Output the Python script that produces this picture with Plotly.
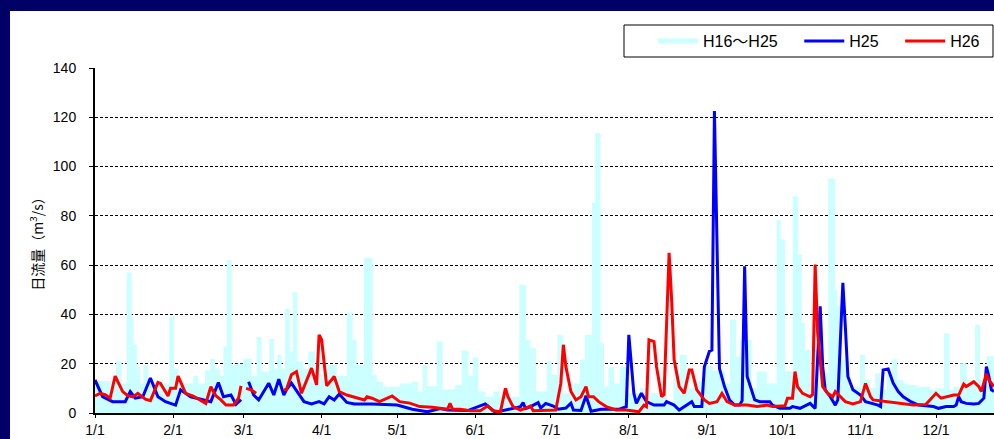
import plotly.graph_objects as go

# ---- data: day of year (0 = 1/1) and daily flow (m3/s) ----
month_days = [0, 31, 59, 90, 120, 151, 181, 212, 243, 273, 304, 334]
month_labels = ["1/1", "2/1", "3/1", "4/1", "5/1", "6/1", "7/1", "8/1", "9/1", "10/1", "11/1", "12/1"]

# H16~H25 envelope (daily maximum over the ten years), as step starts
hist_day = [0.0, 8.3, 10.6, 12.6, 14.6, 15.2, 16.6, 17.9, 19.2, 21.2, 29.5, 31.4, 33.1, 39.0, 41.0,
            43.7, 45.7, 47.7, 49.6, 51.0, 52.3, 54.3, 56.3, 58.9, 62.2, 64.2, 66.2, 69.2, 71.1, 72.4,
            74.1, 75.5, 77.4, 78.5, 80.3, 82.7, 84.7, 87.4, 89.4, 92.0, 96.0, 100.0, 102.3, 103.9,
            106.8, 110.3, 111.9, 114.5, 121.1, 125.8, 128.4, 130.1, 132.0, 135.7, 138.1, 143.0,
            145.6, 148.3, 150.0, 152.2, 154.9, 158.2, 160.8, 168.5, 171.2, 172.8, 175.1, 179.4,
            181.4, 183.6, 186.0, 190.0, 192.6, 194.6, 197.3, 198.6, 200.8, 202.1, 203.9, 206.1,
            208.5, 211.2, 216.4, 219.1, 227.0, 229.7, 232.3, 235.0, 237.6, 241.5, 245.4, 250.2,
            252.2, 254.6, 256.2, 260.8, 262.8, 266.8, 270.7, 272.3, 274.0, 277.1, 279.3, 280.7,
            282.0, 284.6, 285.9, 288.6, 291.2, 293.9, 294.8, 296.5, 299.2, 303.8, 305.8, 307.8,
            309.8, 311.8, 314.4, 316.4, 318.6, 321.0, 323.0, 326.3, 331.6, 333.6, 337.2, 339.3,
            340.9, 343.5, 346.2, 349.5, 351.5, 354.1, 357.0]
hist_max = [13, 21, 12, 57, 39, 27.7, 18.8, 12, 19.5, 12, 39, 18, 12, 15, 12,
            17.5, 22, 18, 15, 27, 62, 19.5, 20, 22, 15, 30.8, 16.8, 30, 18, 23.6,
            18, 42.3, 25, 49, 21, 18, 25, 20, 16, 19.5, 15, 40.8, 29.7, 19.5,
            63, 15.5, 12.7, 10.7, 12, 12.7, 8.7, 19.5, 11, 29, 9.5, 11.4,
            25.4, 15, 22.5, 8.7, 6.6, 8.7, 6.6, 52, 29.7, 26.3, 8.7, 21,
            15.5, 31.7, 8, 12, 21.6, 31.7, 85.3, 113.6, 28.4, 10.7, 18.6, 12,
            18.6, 8, 10, 8, 4.6, 16.1, 23.6, 10, 13, 19, 17, 12,
            37.9, 22.9, 29.7, 10, 16.8, 12, 78.3, 70.4, 16.8, 88, 64.3, 36.5,
            25.6, 17.5, 25.6, 16.1, 95.2, 50, 43.3, 21.6, 10.7, 23.6, 13.4, 10,
            16.1, 9.4, 15.5, 21.8, 13.4, 12, 11.4, 10.7, 9.4, 10, 32.4, 9.4,
            10.7, 20.2, 13.4, 35.8, 13.4, 23, 23]

# H25 daily flow
h25_day = [0, 3, 7, 12, 14, 16, 19, 22, 25, 28, 32, 34, 38, 42, 46, 49, 51, 54, 56, 58, 59,
           61, 63, 65, 69, 71, 73, 75, 76, 78, 81, 83, 86, 89, 91, 93, 95, 97, 100, 103, 110,
           113, 120, 126, 132, 137, 140, 148, 155, 159, 163, 169, 170, 171, 173, 176, 177, 179,
           182, 184, 187, 189, 190, 193, 195, 197, 201, 208, 211, 212, 214, 215, 217, 219, 222,
           226, 227, 230, 232, 235, 237, 238, 241, 242, 244, 245, 246, 247, 248, 250, 252, 254,
           256, 257, 258, 259, 261, 262, 264, 268, 269, 272, 276, 277, 280, 284, 286, 288, 289,
           290, 292, 294, 295, 297, 298, 299, 301, 304, 306, 309, 311, 312, 313, 315, 317, 319,
           321, 324, 327, 333, 335, 338, 341, 342, 343, 344, 346, 349, 351, 353, 354, 355, 356, 357]
h25_val = [13.4, 6.6, 4.6, 4.6, 8.7, 6.0, 6.6, 14.2, 6.6, 4.6, 3.2, 9.4, 6.6, 5.5, 4.6, 12.4, 6.6,
           7.3, 3.5, 5.4, None,
           12.7, 7.3, 5.3, 12.1, 7.3, 13.7, 7.3, 9.4, 12.1, 7.3, 4.6, 3.7, 4.6, 3.7, 6.6, 5.3, 7.7,
           4.3, 3.7, 3.7, 3.5, 3.2, 1.5, 0.5, 1.8, 1.2, 1.0, 3.7, 0.3, 1.2, 2.6, 4.2, 1.8, 2.6,
           4.2, 2.0, 3.9, 2.8, 1.5, 2.0, 4.0, 1.2, 1.0, 7.0, 0.7, 1.5, 1.5, 2.6, 31.7, 8.0, 3.9,
           8.0, 4.6, 3.2, 3.2, 4.6, 3.2, 1.2, 3.2, 4.6, 2.6, 2.6, 18.8, 25.0, 25.5, 122.5, 70.0,
           18.0, 10.7, 5.3, 3.2, 3.2, 5.0, 59.5, 14.8, 8.0, 5.3, 4.6, 4.6, 3.2, 1.9, 1.9, 2.6,
           1.9, 3.9, 1.9, 43.3, 18.8, 9.4, 6.6, 3.2, 5.3, 52.8, 35.0, 14.8, 9.4, 7.3, 4.6, 3.9,
           3.2, 2.6, 17.5, 17.9, 12.1, 8.7, 6.6, 4.6, 3.2, 2.6, 1.9, 2.6, 2.6, 3.2, 6.6, 4.6, 3.9,
           3.7, 3.9, 6.0, 18.8, 14.8, 9.4, 8.7]

# H26 daily flow
h26_day = [0, 2, 4, 6, 8, 11, 13, 15, 17, 20, 22, 25, 26, 29, 30, 32, 33, 36, 39, 42, 44, 46,
           48, 50, 52, 55, 57, 58, 59, 60, 62, 64, 65, 75, 76, 78, 80, 82, 83, 86, 88, 89, 90,
           92, 95, 97, 100, 107, 108, 110, 113, 118, 121, 125, 129, 134, 140, 141, 142, 145,
           149, 153, 156, 158, 161, 163, 164, 166, 169, 173, 174, 179, 183, 185, 186, 187, 189,
           191, 193, 195, 196, 198, 200, 203, 207, 211, 213, 216, 218, 219, 220, 222, 223, 225,
           226, 228, 229, 230, 232, 234, 236, 237, 239, 242, 244, 247, 249, 251, 254, 259, 263,
           267, 269, 274, 275, 277, 278, 279, 281, 284, 285, 286, 287, 289, 291, 293, 294, 296,
           298, 301, 304, 306, 308, 309, 314, 320, 325, 330, 334, 336, 338, 341, 343, 345, 346,
           349, 351, 352, 354, 355, 357]
h26_val = [6.9, 8.0, 7.5, 6.0, 15.0, 8.7, 7.0, 6.5, 8.0, 5.6, 5.0, 12.4, 12.0, 6.9, 10.0, 10.0,
           15.0, 8.0, 6.9, 5.3, 3.9, 10.7, 7.0, 5.3, 3.2, 3.2, 6.0, 11.0, None, 10.0, 9.4, 8.0,
           None, 9.4, 9.4, 15.5, 16.8, 8.0, 10.5, 18.2, 11.4, 31.7, 29.7, 11.0, 14.8, 8.7, 7.3,
           5.3, 6.6, 6.0, 4.6, 6.9, 4.6, 4.0, 2.6, 2.3, 1.5, 3.9, 1.5, 1.5, 0.9, 0.9, 2.9, 0.9,
           0.5, 10.0, 6.6, 2.6, 1.2, 2.9, 0.9, 0.9, 1.2, 12.0, 27.7, 18.8, 8.7, 5.3, 6.6, 10.7,
           6.6, 6.6, 4.6, 2.6, 1.2, 1.2, 1.0, 0.5, 3.2, 2.6, 29.7, 29.0, 18.8, 6.6, 7.5, 65.0,
           46.0, 21.6, 10.7, 8.0, 17.5, 17.5, 9.4, 5.3, 3.9, 4.6, 8.0, 4.6, 3.2, 3.2, 2.6, 3.2,
           2.6, 2.9, 6.0, 6.0, 16.8, 10.7, 8.0, 6.6, 7.5, 60.2, 32.4, 10.7, 8.0, 6.6, 8.7, 6.6,
           4.6, 3.7, 4.6, 12.0, 6.6, 5.3, 4.6, 3.7, 3.2, 3.5, 8.0, 6.0, 6.6, 7.3, 7.3, 11.7, 10.7,
           12.7, 10.7, 8.7, 15.9, 13.4, 10.7]

CYAN = "#ccffff"
BLUE = "#0000ff"
RED = "#ff0000"
NAVY = "#000066"
TEXT_FONT = "Liberation Sans, Arial, Noto Sans CJK JP, sans-serif"
PAD = "\u00a0\u00a0\u00a0\u2009"  # extra room after each legend label

fig = go.Figure()

# ten-year envelope as a stepped cyan area
fig.add_trace(go.Scatter(
    x=hist_day, y=hist_max, mode="lines", line=dict(shape="hv", width=0, color=CYAN),
    fill="tozeroy", fillcolor=CYAN, showlegend=False, hoverinfo="skip"))
# legend entry for the envelope drawn as a thick line
fig.add_trace(go.Scatter(
    x=[None], y=[None], mode="lines", name="H16～H25" + PAD, line=dict(color=CYAN, width=5)))
fig.add_trace(go.Scatter(
    x=h25_day, y=h25_val, mode="lines", name="H25" + PAD, line=dict(color=BLUE, width=3),
    connectgaps=False))
fig.add_trace(go.Scatter(
    x=h26_day, y=h26_val, mode="lines", name="H26", line=dict(color=RED, width=3),
    connectgaps=False))

W, H = 994, 439
L, R, T, B = 95, 0, 68, 26
pw, ph = W - L - R, H - T - B


def px_x(p):
    return (p - L) / pw


def px_y(p):
    return (H - B - p) / ph


shapes = [
    # navy frame along the top and left edges
    dict(type="rect", xref="paper", yref="paper", x0=px_x(0), x1=px_x(10), y0=px_y(H), y1=px_y(0),
         fillcolor=NAVY, line=dict(width=0), layer="above"),
    dict(type="rect", xref="paper", yref="paper", x0=px_x(0), x1=px_x(W), y0=px_y(11), y1=px_y(0),
         fillcolor=NAVY, line=dict(width=0), layer="above"),
    # legend box
    dict(type="rect", xref="paper", yref="paper", x0=px_x(624), x1=px_x(993), y0=px_y(57), y1=px_y(25),
         fillcolor="white", line=dict(color="black", width=1), layer="above"),
]

fig.update_layout(
    width=W, height=H,
    margin=dict(l=L, r=R, t=T, b=B, autoexpand=False),
    paper_bgcolor="white", plot_bgcolor="white",
    font=dict(family=TEXT_FONT, size=14, color="black"),
    shapes=shapes,
    showlegend=True,
    legend=dict(orientation="h", x=px_x(653), y=px_y(41), xanchor="left", yanchor="middle",
                bgcolor="rgba(0,0,0,0)", borderwidth=0, font=dict(size=16, family=TEXT_FONT),
                itemwidth=40, traceorder="normal"),
    xaxis=dict(range=[0, pw / 2.518], tickmode="array", tickvals=month_days, ticktext=month_labels,
               showgrid=False, zeroline=False, showline=True, linecolor="black", linewidth=2,
               ticks="outside", ticklen=3, tickcolor="black", tickfont=dict(size=14)),
    yaxis=dict(range=[0, 140], tickmode="array", tickvals=[0, 20, 40, 60, 80, 100, 120, 140],
               showgrid=True, gridcolor="black", gridwidth=1, griddash="3px,2px",
               zeroline=False, showline=True, linecolor="black", linewidth=2,
               ticks="outside", ticklen=4, tickcolor="black", ticklabelstandoff=10,
               tickfont=dict(size=14),
               title=dict(text="日流量（m<sup>3</sup>/s）", standoff=6,
                          font=dict(size=14, family="Noto Sans CJK JP, sans-serif"))),
)

fig.write_html("out.html")
